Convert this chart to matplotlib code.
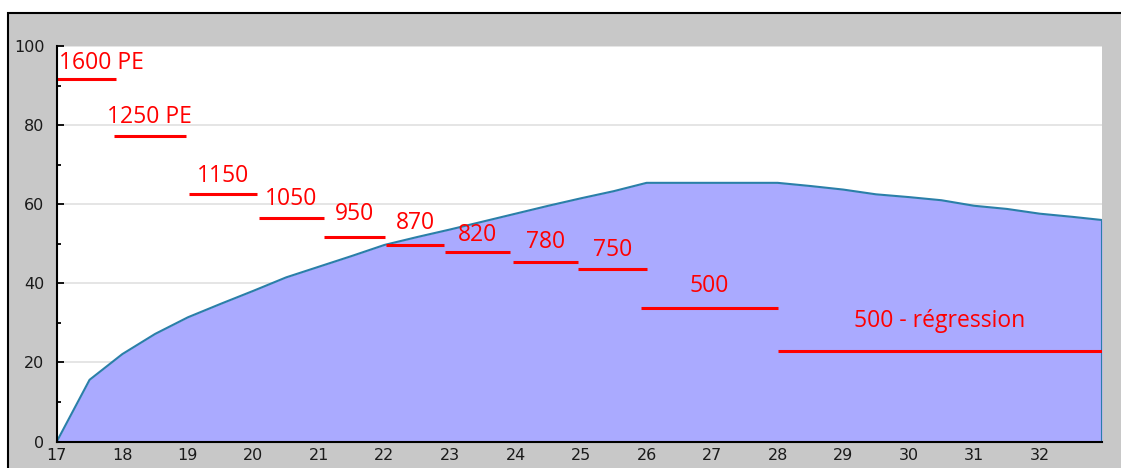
import numpy as np
from matplotlib import pyplot as plt
from matplotlib.patches import Rectangle
from matplotlib.ticker import MultipleLocator

# courbe (aire bleue)
weeks = [17, 17.5, 18, 18.5, 19, 19.5, 20, 20.5, 21, 21.5, 22, 22.5, 23, 23.5,
         24, 24.5, 25, 25.5, 26, 26.5, 27, 27.5, 28, 28.5, 29, 29.5, 30, 30.5,
         31, 31.5, 32, 32.5, 32.95]
values = [0, 15.6, 22.1, 27.2, 31.4, 34.8, 38.1, 41.5, 44.2, 46.9, 49.7, 51.7,
          53.6, 55.6, 57.6, 59.6, 61.5, 63.3, 65.4, 65.4, 65.4, 65.4, 65.4,
          64.6, 63.7, 62.5, 61.8, 61.0, 59.6, 58.8, 57.6, 56.8, 56.0]

# paliers rouges
step_labels = ['1600 PE', '1250 PE', '1150', '1050', '950', '870', '820',
               '780', '750', '500', '500 - régression']
step_start = [17.0, 17.87, 19.02, 20.08, 21.08, 22.03, 22.93, 23.96, 24.95,
              25.91, 28.0]
step_end = [17.9, 18.97, 20.06, 21.08, 22.01, 22.91, 23.92, 24.95, 26.0,
            28.01, 32.95]
step_level = [91.6, 77.2, 62.5, 56.4, 51.8, 49.7, 48.0, 45.5, 43.5, 33.7, 23.0]

# écart texte / trait (points)
label_dy = [7.2, 9.4, 8.6, 9.4, 12, 11.8, 7.4, 9.6, 10, 11.5, 16.8]

W, H = 1121, 468
fig = plt.figure(figsize=(W / 100, H / 100), dpi=100, facecolor='white')

# cadre gris avec bord noir en haut et à gauche
fig.patches.append(Rectangle((8 / W, -0.1), 1.2, 1 - 13 / H + 0.1,
                             transform=fig.transFigure, facecolor='#c8c8c8',
                             edgecolor='black', linewidth=1.5, zorder=-10))

ax = fig.add_axes([56.8 / W, (H - 441.5) / H, (1102 - 56.8) / W, (441.5 - 46) / H])
ax.set_facecolor('white')

ax.fill_between(weeks, values, 0, color='#aaaaff', linewidth=0, zorder=2)
ax.plot(weeks + [weeks[-1]], values + [0], color='#2a7fa8', linewidth=1.5, zorder=3)

for i, lab in enumerate(step_labels):
    ax.plot([step_start[i], step_end[i]], [step_level[i], step_level[i]],
            color='#ff0000', linewidth=2.2, solid_capstyle='butt', zorder=4)
    if i == 0:
        x, ha = step_start[i] + 0.03, 'left'
    else:
        x, ha = (step_start[i] + step_end[i]) / 2, 'center'
    ax.annotate(lab, (x, step_level[i]), xytext=(0, label_dy[i]),
                textcoords='offset points', ha=ha, va='baseline',
                color='#ff0000', fontsize=16.5, family=['Open Sans', 'DejaVu Sans'],
                zorder=5)

ax.set_xlim(17, 32.95)
ax.set_ylim(0, 100)
ax.xaxis.set_major_locator(MultipleLocator(1))
ax.xaxis.set_minor_locator(MultipleLocator(0.5))
ax.yaxis.set_major_locator(MultipleLocator(20))
ax.yaxis.set_minor_locator(MultipleLocator(10))

ax.tick_params(axis='both', which='both', direction='in', color='black',
               labelsize=11.5, labelcolor='#1a1a1a', width=1.3)
ax.tick_params(axis='x', which='major', length=6, pad=5)
ax.tick_params(axis='x', which='minor', length=4)
ax.tick_params(axis='y', which='major', length=5, pad=9)
ax.tick_params(axis='y', which='minor', length=3)

ax.grid(axis='y', which='major', color='#e0e0e0', linewidth=1.2, zorder=1)
ax.set_axisbelow(True)

for side in ['top', 'right']:
    ax.spines[side].set_visible(False)
for side in ['left', 'bottom']:
    ax.spines[side].set_color('black')
    ax.spines[side].set_linewidth(1.5)
    ax.spines[side].set_zorder(6)

fig.savefig('out.png', dpi=100, facecolor=fig.get_facecolor())
